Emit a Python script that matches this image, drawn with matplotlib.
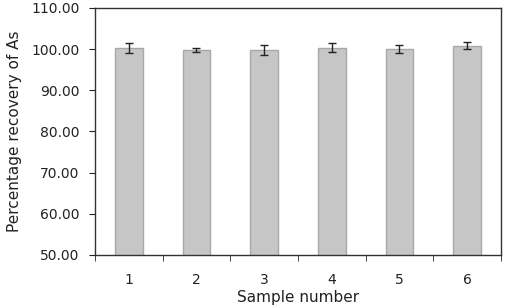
import matplotlib.pyplot as plt
import numpy as np

samples = [1, 2, 3, 4, 5, 6]
recovery = [100.37, 99.8, 99.8, 100.37, 100.05, 100.85]
errors = [1.2, 0.5, 1.2, 1.1, 1.0, 0.9]
yticks = [50, 60, 70, 80, 90, 100, 110]

fig = plt.figure(figsize=(5.07, 3.07), dpi=100)
ax = fig.add_axes([0.1874, 0.1694, 0.8006, 0.8046])

x = np.array(samples)
ax.bar(x, recovery, width=0.41, color='#c6c6c6', edgecolor='#a8a8a8', linewidth=1.0)
ax.errorbar(x, recovery, yerr=errors, fmt='none', ecolor='#222222',
            elinewidth=1.0, capsize=2.6, capthick=1.0)

ax.set_xlim(0.5, 6.5)
ax.set_ylim(50, 110)
ax.set_yticks(yticks)
ax.set_yticklabels(['%.2f' % v for v in yticks])
ax.set_xticks(x)
ax.set_xticks(np.arange(0.5, 7.0, 1.0), minor=True)
ax.tick_params(axis='x', which='major', length=0, pad=13, labelsize=10, colors='#222222')
ax.tick_params(axis='x', which='minor', length=4, direction='out', color='#222222')
ax.tick_params(axis='y', length=4, direction='out', pad=7, labelsize=10, colors='#222222')

for s in ax.spines.values():
    s.set_color('#333333')
    s.set_linewidth(1.0)

ax.set_xlabel('Sample number', fontsize=11, color='#222222', labelpad=2)
ax.set_ylabel('Percentage recovery of As', fontsize=11, color='#222222', labelpad=7)

fig.savefig('out.png', dpi=100)
